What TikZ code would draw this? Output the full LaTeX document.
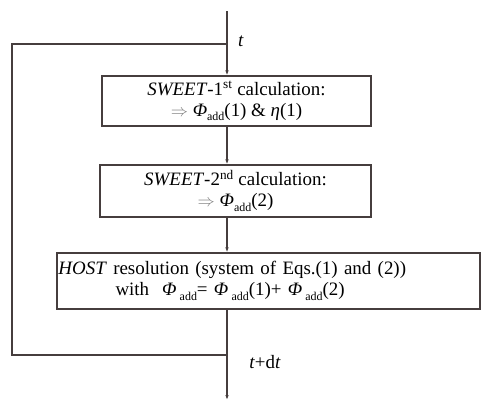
\documentclass[tikz,border=0pt]{standalone}
\usepackage{fontspec}
\setmainfont{Liberation Serif}
\usetikzlibrary{arrows.meta, positioning, calc}
\definecolor{linegray}{RGB}{70,62,62}
\newcommand{\addsub}{\raisebox{-4.5bp}{\fontsize{12}{12}\selectfont add}}
\newcommand{\phiadd}{\textit{Φ}\addsub}
\newcommand{\phiaddsp}{\textit{Φ}\,\addsub}

\begin{document}
\begin{tikzpicture}[
    x=1bp, y=-1bp,
    box/.style={draw=linegray, line width=1.1bp, inner sep=0pt, align=center,
                font=\fontsize{19}{21}\selectfont},
    arr/.style={-{Latex[length=5bp, width=3.5bp]}, line width=1.1bp, linegray},
    loopline/.style={line width=1.1bp, linegray},
    lbl/.style={font=\fontsize{19}{21}\selectfont},
]
\useasboundingbox (0,0) rectangle (483,401);

% Calculation boxes
\node[box, minimum width=269bp, minimum height=50bp] (sweet1) at (236.5,101)
    {\textit{SWEET}-1\textsuperscript{st} calculation:\\
     {\color{gray}$\Rightarrow$} \phiadd(1) \& \textit{η}(1)};
\node[box, minimum width=271bp, minimum height=52bp] (sweet2) at (235.5,191)
    {\textit{SWEET}-2\textsuperscript{nd} calculation:\\
     {\color{gray}$\Rightarrow$} \phiadd(2)};
\node[box, minimum width=423bp, minimum height=56bp, text width=420bp, align=left] (host) at (268.5,281)
    {\textit{HOST} resolution (system of Eqs.(1) and (2))\\
     \hspace*{57bp}with\hspace{13bp}\phiaddsp= \phiaddsp(1)+ \phiaddsp(2)};

% Time axis and loop corners
\coordinate (start)  at (227,11);
\coordinate (finish) at (227,400);
\coordinate (ltop)   at (12,44);
\coordinate (lbot)   at (12,355);

% Arrows
\draw[arr] (start) -- (start |- sweet1.north);
\draw[arr] (start |- sweet1.south) -- (start |- sweet2.north);
\draw[arr] (start |- sweet2.south) -- (start |- host.north);
\draw[arr] (start |- host.south) -- (finish);

% Time loop
\draw[loopline] (start |- lbot) -- (lbot) -- (ltop) -- (start |- ltop);

% Time labels
\node[lbl] (tnow)  at (241,41)  {\textit{t}};
\node[lbl] (tnext) at (265,362) {\textit{t}+d\textit{t}};
\end{tikzpicture}
\end{document}
